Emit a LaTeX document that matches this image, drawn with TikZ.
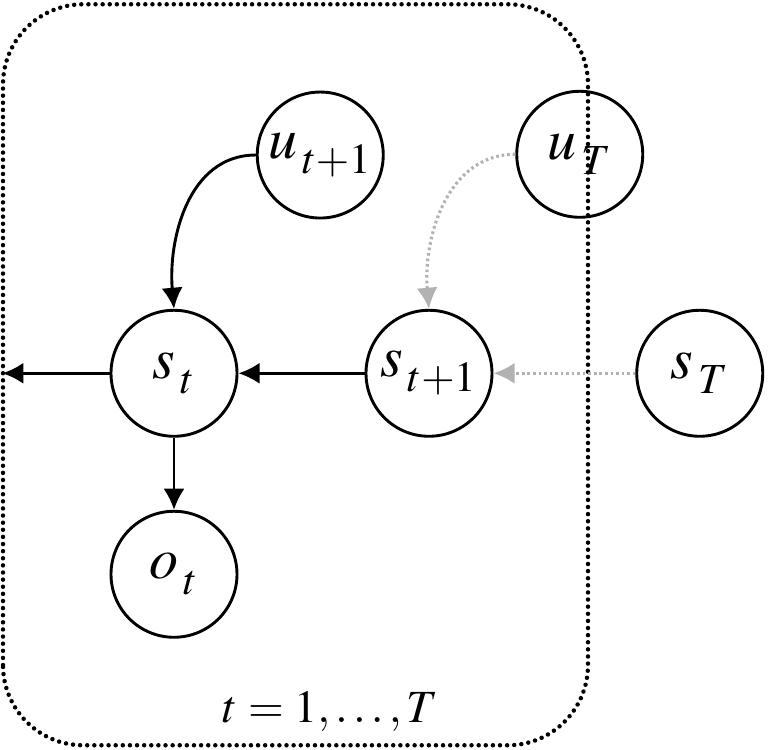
\documentclass[tikz,border=0pt]{standalone}
\usepackage{mathptmx}
\usepackage{fontspec}
\setmainfont{Liberation Serif}
\usetikzlibrary{arrows.meta}

\newcommand{\lo}[1]{_{\lower2.5pt\hbox{$\scriptstyle\mkern2mu #1$}}}

\begin{document}
\begin{tikzpicture}[
  var/.style={circle, draw, line width=1.1pt, minimum size=1.68cm, inner sep=0pt, font=\fontsize{22}{24}\selectfont},
  faint/.style={gray!60, line width=1.2pt, dash pattern=on 1pt off 1.1pt},
  plate/.style={line width=1.7pt, line cap=round, dash pattern=on 0pt off 2.7pt, rounded corners=1.07cm},
  >={Latex[length=8pt,width=8pt]}]

\useasboundingbox (0,0) rectangle (10.24,9.987);

%plate
\draw[plate] (0.04,0.05) rectangle (7.84,9.93);
\node[font=\fontsize{17.5}{20}\selectfont] (range) at (4.41,0.5) {$t=1,\ldots,T$};

%variables
\node[var] (ut1) at (4.27,7.92) {$u\lo{t+1}$};
\node[var] (uT)  at (7.73,7.93) {$u\lo{T}$};
\node[var] (st)  at (2.32,5.01) {$s\lo{t}$};
\node[var] (st1) at (5.72,5.01) {$s\lo{t+1}$};
\node[var] (sT)  at (9.33,5.01) {$s\lo{T}$};
\node[var] (ot)  at (2.32,2.33) {$o\lo{t}$};

\coordinate (prev) at (0.03,5.01);

%arrows
\draw[->, line width=1.1pt] (ut1.west) to[out=180, in=95] (st.north);
\draw[->, line width=1.1pt] (st1) -- (st);
\draw[->, line width=1.1pt] (st) -- (prev);
\draw[->, line width=1.1pt] (st) -- (ot);

%to the last step
\draw[->, faint] (uT.west) to[out=180, in=95] (st1.north);
\draw[->, faint] (sT) -- (st1);

\end{tikzpicture}
\end{document}
